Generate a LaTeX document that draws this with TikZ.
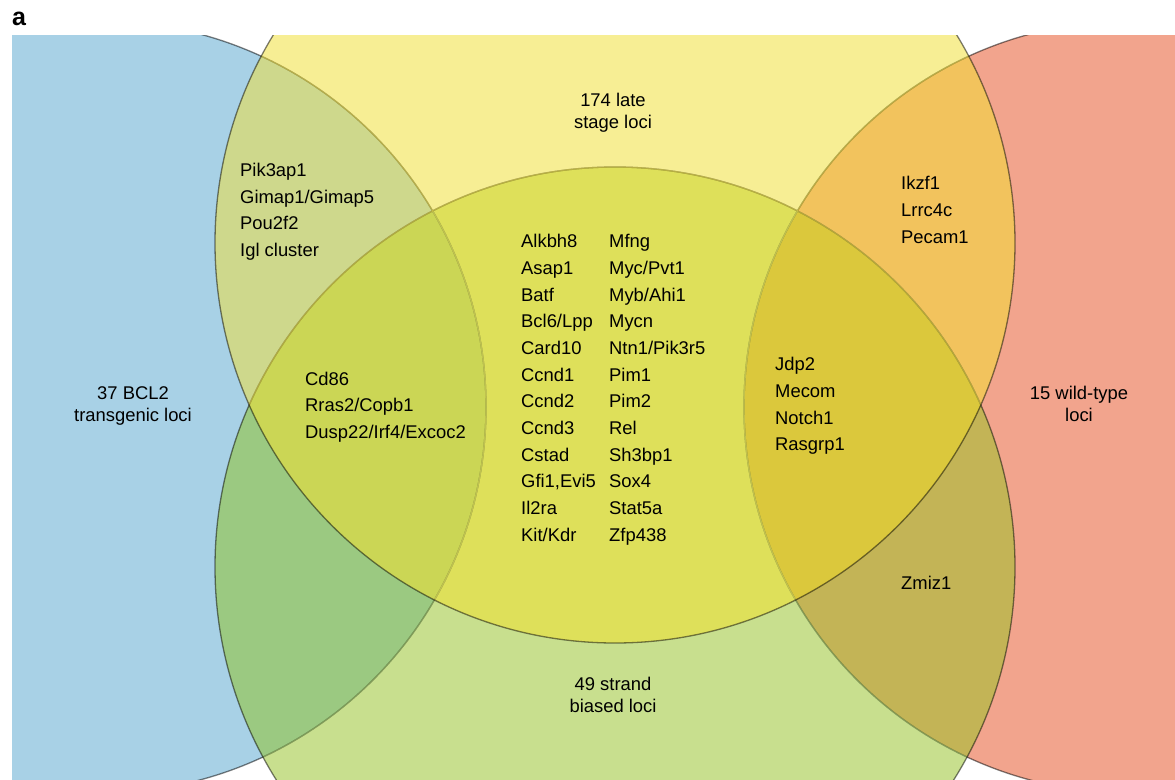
\documentclass[tikz,border=0pt]{standalone}
\usepackage{fontspec}
\setmainfont{Liberation Sans}
\definecolor{cBlue}{HTML}{A8D1E6}
\definecolor{cRed}{HTML}{F2A48D}
\definecolor{cYellow}{HTML}{F7EE94}
\definecolor{cGreen}{HTML}{C8DF8E}
\definecolor{cBY}{HTML}{CED88C}
\definecolor{cBG}{HTML}{9BC981}
\definecolor{cLens}{HTML}{DEE05A}
\definecolor{cBLens}{HTML}{CBD655}
\definecolor{cRY}{HTML}{F2C35D}
\definecolor{cRLens}{HTML}{DBC83C}
\definecolor{cRG}{HTML}{C3B456}
\definecolor{vY}{HTML}{F0E150}
\definecolor{vG}{HTML}{A8D070}
\begin{document}
\begin{tikzpicture}[x=1pt,y=-1pt,
  edge/.style={draw=black, draw opacity=0.5, line width=1.3pt},
  veilY/.style={draw=vY, draw opacity=0.55, line width=1.3pt},
  veilG/.style={draw=vG, draw opacity=0.5, line width=1.3pt},
  lbl/.style={inner sep=0pt, font=\fontsize{18.4}{22}\selectfont, text=black}]
\useasboundingbox (0,0) rectangle (1175,779);
\coordinate (B) at (100,407);
\coordinate (R) at (1130,407);
\coordinate (Y) at (615,243);
\coordinate (G) at (615,567);
\begin{scope}
  \clip (12,35) rectangle (1175,779);
  % base fills
  \fill[cBlue] (B) circle[radius=386pt];
  \fill[cRed] (R) circle[radius=386pt];
  \fill[cGreen] (G) circle[radius=400pt];
  \fill[cYellow] (Y) circle[radius=400pt];
  \begin{scope}
    \clip (Y) circle[radius=400pt];
    \fill[cLens] (G) circle[radius=400pt];
  \end{scope}
  % blue overlaps
  \begin{scope}
    \clip (B) circle[radius=386pt];
    \fill[cBY] (Y) circle[radius=400pt];
    \fill[cBG] (G) circle[radius=400pt];
    \clip (Y) circle[radius=400pt];
    \fill[cBLens] (G) circle[radius=400pt];
  \end{scope}
  % red overlaps
  \begin{scope}
    \clip (R) circle[radius=386pt];
    \fill[cRY] (Y) circle[radius=400pt];
    \fill[cRG] (G) circle[radius=400pt];
    \clip (Y) circle[radius=400pt];
    \fill[cRLens] (G) circle[radius=400pt];
  \end{scope}
  % outlines, layered: blue, red, green, yellow
  \draw[edge] (B) circle[radius=386pt];
  \draw[edge] (R) circle[radius=386pt];
  \begin{scope}
    \clip (G) circle[radius=400pt];
    \draw[veilG] (B) circle[radius=386pt];
    \draw[veilG] (R) circle[radius=386pt];
  \end{scope}
  \draw[edge] (G) circle[radius=400pt];
  \begin{scope}
    \clip (Y) circle[radius=400pt];
    \draw[veilY] (B) circle[radius=386pt];
    \draw[veilY] (R) circle[radius=386pt];
    \draw[veilY] (G) circle[radius=400pt];
  \end{scope}
  \draw[edge] (Y) circle[radius=400pt];
\end{scope}
% panel letter
\node[inner sep=0pt, anchor=base west, font=\fontsize{25}{25}\selectfont\bfseries] (panel) at (12,25) {a};
% set labels
\node[lbl, anchor=base] (yl1) at (613,106) {174 late};
\node[lbl, anchor=base] (yl2) at (613,128.3) {stage loci};
\node[lbl, anchor=base] (bl1) at (133,399.3) {37 BCL2};
\node[lbl, anchor=base] (bl2) at (133,421.7) {transgenic loci};
\node[lbl, anchor=base] (rl1) at (1079,399.3) {15 wild-type};
\node[lbl, anchor=base] (rl2) at (1079,421.7) {loci};
\node[lbl, anchor=base] (gl1) at (613,690) {49 strand};
\node[lbl, anchor=base] (gl2) at (613,712.3) {biased loci};
% gene lists
\foreach \t [count=\i] in {Pik3ap1,Gimap1/Gimap5,Pou2f2,Igl cluster}
  \node[lbl, anchor=base west] (by\i) at (240,{176.7+26.6*(\i-1)}) {\t};
\foreach \t [count=\i] in {Ikzf1,Lrrc4c,Pecam1}
  \node[lbl, anchor=base west] (ry\i) at (901,{189.5+26.9*(\i-1)}) {\t};
\foreach \t [count=\i] in {Cd86,Rras2/Copb1,Dusp22/Irf4/Excoc2}
  \node[lbl, anchor=base west] (bc\i) at (305,{385+26.67*(\i-1)}) {\t};
\foreach \t [count=\i] in {Jdp2,Mecom,Notch1,Rasgrp1}
  \node[lbl, anchor=base west] (rc\i) at (775,{370.7+26.67*(\i-1)}) {\t};
\node[lbl, anchor=base west] (rg1) at (901,589.3) {Zmiz1};
\foreach \t [count=\i] in {Alkbh8,Asap1,Batf,Bcl6/Lpp,Card10,Ccnd1,Ccnd2,Ccnd3,Cstad,{Gfi1,Evi5},Il2ra,Kit/Kdr}
  \node[lbl, anchor=base west] (ca\i) at (521,{247.7+26.67*(\i-1)}) {\t};
\foreach \t [count=\i] in {Mfng,Myc/Pvt1,Myb/Ahi1,Mycn,Ntn1/Pik3r5,Pim1,Pim2,Rel,Sh3bp1,Sox4,Stat5a,Zfp438}
  \node[lbl, anchor=base west] (cb\i) at (609,{247.7+26.67*(\i-1)}) {\t};
\end{tikzpicture}
\end{document}
